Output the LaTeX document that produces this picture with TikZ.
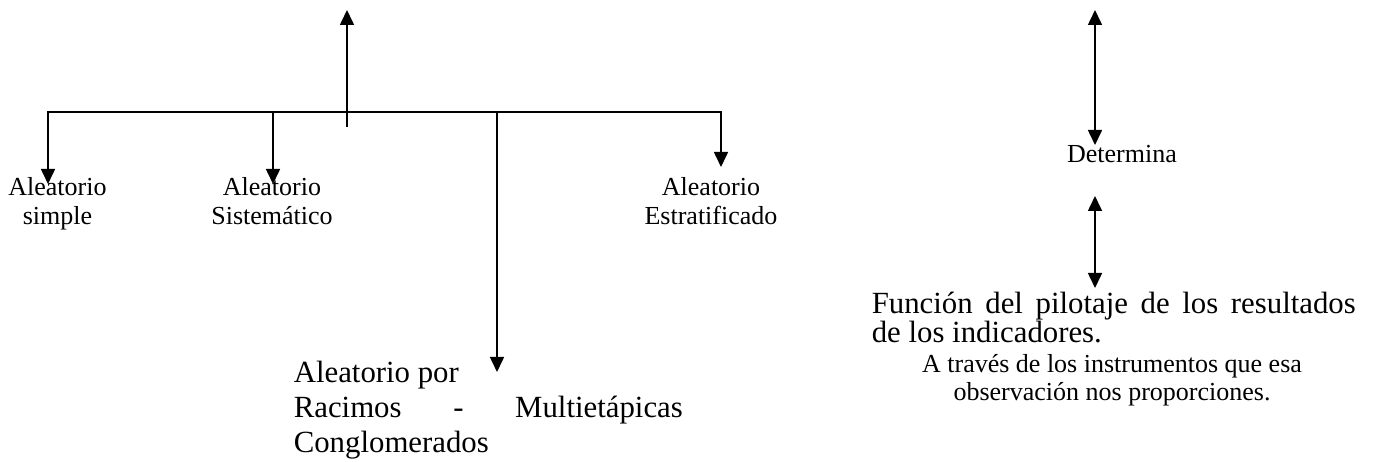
\documentclass[tikz,border=0pt]{standalone}
\usepackage{fontspec}
\setmainfont{Liberation Serif}
\usetikzlibrary{arrows.meta}

\begin{document}
\begin{tikzpicture}[x=1pt, y=-1pt, line width=1.6pt,
  tip/.style={-{Triangle[width=14pt,length=15pt]}},
  dtip/.style={{Triangle[width=14pt,length=15pt]}-{Triangle[width=14pt,length=15pt]}},
  lbl/.style={inner sep=0pt, anchor=base, align=center, font=\fontsize{26pt}{29.5pt}\selectfont},
  big/.style={inner sep=0pt, anchor=base west, align=left, font=\fontsize{30.8pt}{35pt}\selectfont}]%
\useasboundingbox (0,0) rectangle (1374,462);%
\coordinate (up) at (347,10);%
\coordinate (stem) at (347,127);%
\coordinate (bus1) at (48,112);%
\coordinate (bus2) at (273,112);%
\coordinate (bus3) at (497,112);%
\coordinate (bus4) at (721,112);%
\coordinate (tip1) at (48,184);%
\coordinate (tip2) at (273,184);%
\coordinate (tip3) at (497,372);%
\coordinate (tip4) at (721,167);%
\coordinate (det1) at (1095,10);%
\coordinate (det2) at (1095,145);%
\coordinate (det3) at (1095,196);%
\coordinate (det4) at (1095,288);%
\draw[tip] (stem) -- (up);%
\draw[dtip] (tip1) -- (bus1) -- (bus4) -- (tip4);%
\draw[tip] (bus2) -- (tip2);%
\draw[tip] (bus3) -- (tip3);%
\draw[dtip] (det1) -- (det2);%
\draw[dtip] (det3) -- (det4);%
\node[lbl] (simple) at (57.5,225) {Aleatorio\\simple};%
\node[lbl] (sistematico) at (272,225) {Aleatorio\\Sistemático};%
\node[lbl] (estratificado) at (711,225) {Aleatorio\\Estratificado};%
\node[big] (racimos) at (293,452) {Aleatorio por\\\makebox[389pt][s]{Racimos - Multietápicas}\\Conglomerados};%
\node[lbl] (determina) at (1122,163) {Determina};%
\node[big, font=\fontsize{30.8pt}{29pt}\selectfont] (funcion) at (871,343) {\makebox[484pt][s]{Función del pilotaje de los resultados}\\de los indicadores.};%
\node[lbl, font=\fontsize{26pt}{28pt}\selectfont] (instrumentos) at (1112,400) {A través de los instrumentos que esa\\observación nos proporciones.};%
\end{tikzpicture}
\end{document}
